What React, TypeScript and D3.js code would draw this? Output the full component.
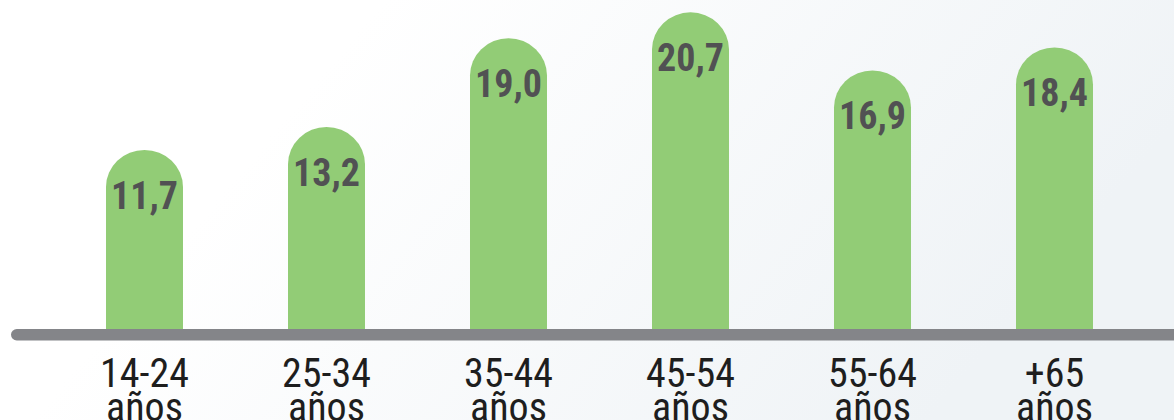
import React from "react";
import * as d3 from "d3";

const categories = ["14-24", "25-34", "35-44", "45-54", "55-64", "+65"];
const categorySub = ["años", "años", "años", "años", "años", "años"];
const values = [11.7, 13.2, 19.0, 20.7, 16.9, 18.4];
const valueLabels = ["11,7", "13,2", "19,0", "20,7", "16,9", "18,4"];

const W = 1174;
const H = 420;
const BASE = 329;

export default function App() {
  const x = d3
    .scaleBand<string>()
    .domain(categories)
    .range([53.5, 1145.5])
    .paddingInner(0.577)
    .paddingOuter(0.2885);
  const y = d3.scaleLinear().domain([0, 22]).range([BASE, BASE - 22 * 15.3]);
  const bw = x.bandwidth();
  const rx = bw / 2;
  const ry = 37;

  const barPath = (v: number, i: number) => {
    const x0 = x(categories[i]) as number;
    const top = y(v);
    const p = d3.path();
    p.moveTo(x0, BASE);
    p.lineTo(x0, top + ry);
    // elliptical top drawn via SVG arc
    return `M${x0},${BASE}L${x0},${top + ry}A${rx},${ry} 0 0 1 ${x0 + bw},${top + ry}L${x0 + bw},${BASE}Z`;
  };

  return (
    <div style={{ position: "fixed", left: 0, top: 0, width: W, height: H }}>
      <svg width={W} height={H} style={{ display: "block" }}>
        <defs>
          <linearGradient id="bg" x1="0" y1="0" x2="1" y2="0.3">
            <stop offset="0.3" stopColor="#ffffff" />
            <stop offset="1" stopColor="#eff3f6" />
          </linearGradient>
        </defs>
        <rect x={0} y={0} width={W} height={H} fill="url(#bg)" />
        {values.map((v, i) => (
          <path key={"b" + i} d={barPath(v, i)} fill="#92cc76" />
        ))}
        <rect x={11} y={BASE} width={1200} height={11.5} rx={5.75} fill="#848589" />
        {values.map((v, i) => {
          const cx = (x(categories[i]) as number) + bw / 2;
          return (
            <text
              key={"v" + i}
              transform={`translate(${cx},${y(v) + 59})`}
              textAnchor="middle"
              fontFamily="Roboto"
              fontWeight={700}
              fontSize={38}
              style={{ fontStretch: "75%" }}
              fill="#515153"
            >
              {valueLabels[i]}
            </text>
          );
        })}
        {categories.map((c, i) => {
          const cx = (x(c) as number) + bw / 2;
          return (
            <g key={"c" + i} transform={`translate(${cx},0)`}>
              <text
                y={386.7}
                textAnchor="middle"
                fontFamily="Roboto"
                fontSize={40}
                style={{ fontStretch: "75%" }}
                fill="#1e1e1e"
              >
                {c}
              </text>
              <text
                y={420.5}
                textAnchor="middle"
                fontFamily="Roboto"
                fontSize={40}
                style={{ fontStretch: "75%" }}
                fill="#1e1e1e"
              >
                {categorySub[i]}
              </text>
            </g>
          );
        })}
      </svg>
    </div>
  );
}
